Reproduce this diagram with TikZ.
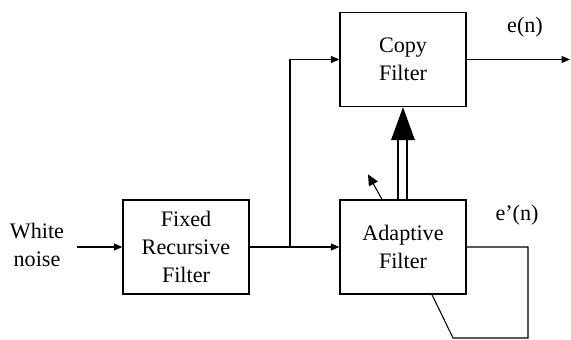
\documentclass[tikz,border=0pt]{standalone}
\usepackage{fontspec}
\setmainfont{Liberation Serif}
\usepackage{tikz}
\usetikzlibrary{positioning,calc,arrows.meta}

\tikzset{
    block/.style={draw, line width=0.75pt, minimum width=2.52cm, minimum height=1.88cm,
                  align=center, font=\fontsize{12.6}{16}\selectfont},
    lbl/.style={align=center, font=\fontsize{12.6}{16}\selectfont},
    sig/.style={line width=0.6pt},
    arr/.style={sig, -{Triangle[length=0.17cm,width=0.14cm]}}
}

\begin{document}
\begin{tikzpicture}[x=0.02cm,y=-0.02cm]
    \useasboundingbox (0,0) rectangle (571,340);
    % blocks
    \node[block] (fixed) at (186,247) {Fixed\\Recursive\\Filter};
    \node[block] (adapt) at (403,247) {Adaptive\\Filter};
    \node[block] (copy) at (403,59.5) {Copy\\Filter};
    \node[lbl] (noise) at (37,245) {White\\noise};
    \node[lbl] (en) at (525,27) {e(n)};
    \node[lbl] (epn) at (517,215) {e'(n)};

    \coordinate (in) at (77,247);
    \coordinate (split) at (290,247);
    \coordinate (out) at (570,59.5);
    \coordinate (fb1) at (528,247);
    \coordinate (fb2) at (528,338);
    \coordinate (fb3) at (453,338);

    \draw[arr] (in) -- (fixed.west);
    \draw[arr] (fixed.east) -- (adapt.west);
    \draw[arr] (split) |- (copy.west);
    \draw[arr] (copy.east) -- (out);

    % coefficient transfer
    \draw[sig] ($(adapt.north)+(-5,0)$) -- ($(copy.south)+(-5,33)$);
    \draw[sig] ($(adapt.north)+(4,0)$) -- ($(copy.south)+(4,33)$);
    \fill ($(copy.south)+(-12,33)$) -- (copy.south) -- ($(copy.south)+(12,33)$) -- cycle;

    % adaptation
    \draw[sig, -{Triangle[length=0.22cm,width=0.2cm]}] ($(adapt.north)+(-21,0)$) -- ++(-14,-25);
    \draw[sig] (adapt.east) -- (fb1) -- (fb2) -- (fb3) -- ($(adapt.south)+(29,0)$);
\end{tikzpicture}
\end{document}
